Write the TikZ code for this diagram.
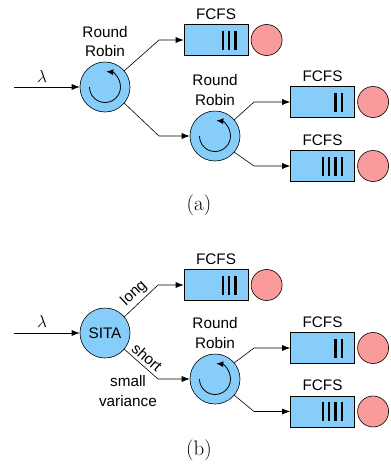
\documentclass[tikz,border=0pt]{standalone}
\usepackage{fontspec}
\newfontfamily\figfont{Liberation Sans}
\usetikzlibrary{arrows.meta,positioning,calc}

\definecolor{qblue}{RGB}{135,205,250}
\definecolor{sred}{RGB}{250,155,155}

\begin{document}
\begin{tikzpicture}[x=1pt, y=1pt,
    font=\figfont\fontsize{15.3}{19.5}\selectfont,
    >={Latex[length=8pt,width=6pt]},
    rrnode/.style={circle, draw, semithick, fill=qblue, minimum size=50pt, inner sep=0pt},
    queue/.style={rectangle, draw, semithick, fill=qblue, minimum width=64pt, minimum height=31pt, inner sep=0pt},
    server/.style={circle, draw, semithick, fill=sred, minimum size=31pt, inner sep=0pt},
    spin/.style={-{Latex[length=7pt,width=6pt]}, thick},
    job/.style={line width=2.4pt},
    link/.style={->, semithick},
    serif/.style={font=\rmfamily\fontsize{16}{18}\selectfont},
    caption/.style={font=\rmfamily\fontsize{21}{24}\selectfont}]

\useasboundingbox (0,0) rectangle (391,-466);

% ===============================================================
% (a): Round Robin in front of Round Robin
% ===============================================================

% arrivals
\coordinate (ina) at (14,-87);
\node[serif] (lama) at (42,-76) {$\lambda$};

% first level
\node[rrnode] (rra1) at (105,-87) {};
\node[above=1.5pt of rra1, align=center] (rra1lbl) {Round\\Robin};

% second level round robin
\node[rrnode] (rra2) at (215,-136) {};
\node[above=2pt of rra2, align=center] (rra2lbl) {Round\\Robin};

% FCFS queues + servers
\node[queue] (qa1) at (216,-40) {};
\node[queue] (qa2) at (322.5,-102) {};
\node[queue] (qa3) at (322.5,-166) {};
\node[server, right=2.5pt of qa1] (sa1) {};
\node[server, right=2.5pt of qa2] (sa2) {};
\node[server, right=2.5pt of qa3] (sa3) {};
\node[above=1.5pt of qa1] (fa1) {FCFS};
\node[above=1.5pt of qa2] (fa2) {FCFS};
\node[above=1.5pt of qa3] (fa3) {FCFS};

% jobs waiting
\foreach \i in {0,1,2} \draw[job] ($(qa1.east)+(-13-6.3*\i,9.5)$) -- ++(0,-19);
\foreach \i in {0,1}   \draw[job] ($(qa2.east)+(-13-6.3*\i,9.5)$) -- ++(0,-19);
\foreach \i in {0,1,2,3} \draw[job] ($(qa3.east)+(-13-6.3*\i,9.5)$) -- ++(0,-19);

% round robin symbol
\foreach \c in {rra1,rra2}
    \draw[spin] ($(\c)+(180:15.5)$) arc[start angle=180, end angle=445, radius=15.5];

% links
\coordinate (kinka) at (159,0);
\coordinate (kinka2) at (254,0);
\draw[link] (ina) -- (rra1.west);
\draw[link] (rra1.40) -- (kinka |- qa1.west) -- (qa1.west);
\draw[link] (rra1.-40) -- (kinka |- rra2.west) -- (rra2.west);
\draw[link] (rra2.40) -- (kinka2 |- qa2.west) -- (qa2.west);
\draw[link] (rra2.-40) -- (kinka2 |- qa3.west) -- (qa3.west);

\node[caption] (capa) at (199,-205) {(a)};

% ===============================================================
% (b): SITA in front of Round Robin
% ===============================================================

\begin{scope}[yshift=-245pt]

\coordinate (inb) at (14,-88);
\node[serif] (lamb) at (42,-76) {$\lambda$};

\node[rrnode] (sitab) at (105,-88) {SITA};

\node[rrnode] (rrb) at (215,-134) {};
\node[above=2pt of rrb, align=center] (rrblbl) {Round\\Robin};

\node[queue] (qb1) at (216,-40) {};
\node[queue] (qb2) at (322.5,-103) {};
\node[queue] (qb3) at (322.5,-166.5) {};
\node[server, right=2.5pt of qb1] (sb1) {};
\node[server, right=2.5pt of qb2] (sb2) {};
\node[server, right=2.5pt of qb3] (sb3) {};
\node[above=1.5pt of qb1] (fb1) {FCFS};
\node[above=1.5pt of qb2] (fb2) {FCFS};
\node[above=1.5pt of qb3] (fb3) {FCFS};

\foreach \i in {0,1,2} \draw[job] ($(qb1.east)+(-13-6.3*\i,9.5)$) -- ++(0,-19);
\foreach \i in {0,1}   \draw[job] ($(qb2.east)+(-13-6.3*\i,9.5)$) -- ++(0,-19);
\foreach \i in {0,1,2,3} \draw[job] ($(qb3.east)+(-13-6.3*\i,9.5)$) -- ++(0,-19);

\draw[spin] ($(rrb)+(180:15.5)$) arc[start angle=180, end angle=445, radius=15.5];

\coordinate (kinkb) at (158,0);
\coordinate (kinkb2) at (254,0);
\draw[link] (inb) -- (sitab.west);
\draw[link] (sitab.40) -- node[sloped, above, inner sep=3pt] (lngb) {long} (kinkb |- qb1.west) -- (qb1.west);
\draw[link] (sitab.-40) -- node[sloped, above, inner sep=3pt] (shtb) {short} (kinkb |- rrb.west) -- (rrb.west);
\draw[link] (rrb.40) -- (kinkb2 |- qb2.west) -- (qb2.west);
\draw[link] (rrb.-40) -- (kinkb2 |- qb3.west) -- (qb3.west);

\node[align=center] (varb) at (128,-146) {small\\variance};

\node[caption] (capb) at (199,-205) {(b)};

\end{scope}

\end{tikzpicture}
\end{document}
